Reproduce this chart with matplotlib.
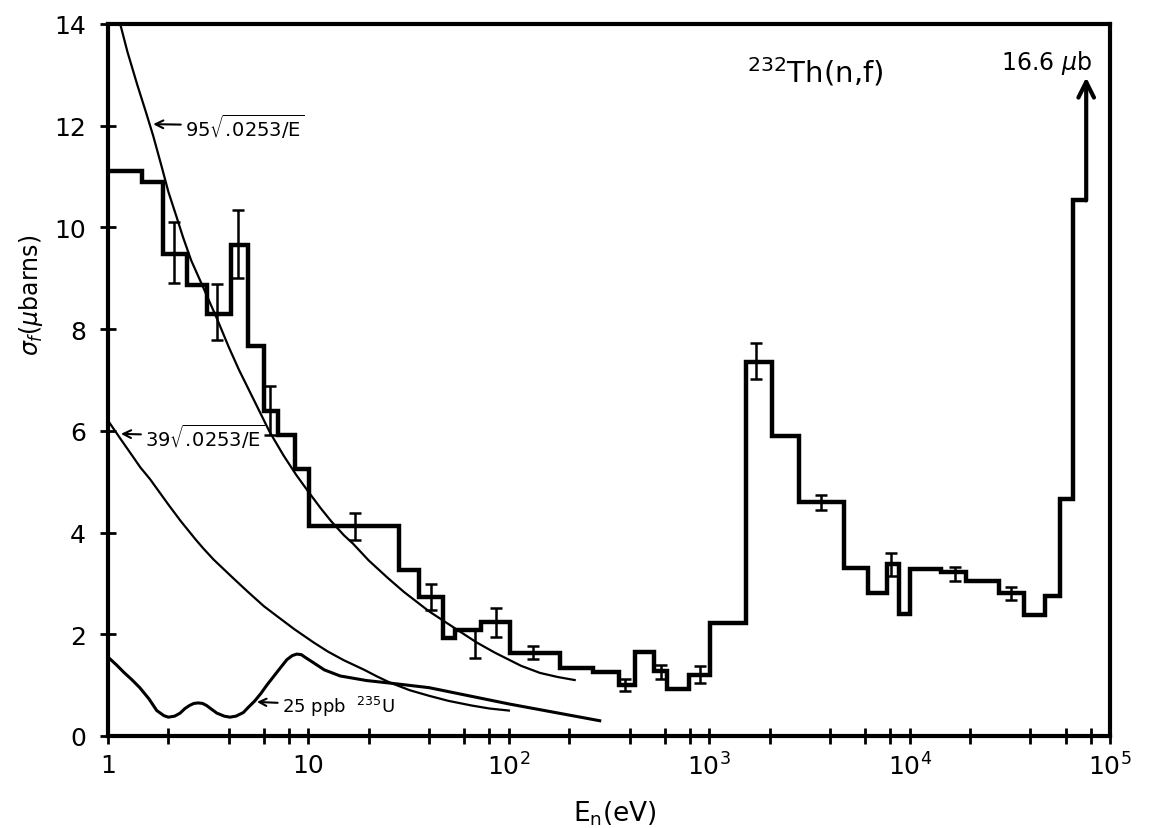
import matplotlib
matplotlib.use('Agg')
import matplotlib.pyplot as plt
from matplotlib.ticker import LogLocator, NullFormatter
import numpy as np

plt.rcParams['font.family'] = ['DejaVu Sans']
plt.rcParams['mathtext.fontset'] = 'dejavusans'

# histogram of the measured cross section: bin edges (eV) and values (microbarns)
edges = [1, 1.47, 1.875, 2.49, 3.13, 4.11, 4.98, 6.0, 7.08, 8.58,
         10.1, 28.4, 35.6, 47, 53.7, 73, 101, 180, 263, 355,
         425, 528, 615, 790, 1010, 1530, 2050, 2810, 4720, 6180,
         7750, 8800, 9980, 14250, 19200, 28000, 37200, 47600, 56000, 65500,
         76000]
sigma = [11.1, 10.9, 9.48, 8.87, 8.29, 9.65, 7.67, 6.38, 5.91, 5.24,
         4.12, 3.26, 2.74, 1.92, 2.08, 2.25, 1.64, 1.33, 1.25, 1.0,
         1.65, 1.28, 0.92, 1.2, 2.23, 7.36, 5.89, 4.61, 3.31, 2.82,
         3.39, 2.39, 3.29, 3.22, 3.05, 2.82, 2.37, 2.75, 4.65, 10.53]

# error bars: energy, lower end, upper end
err_e = [2.13, 3.51, 4.47, 6.43, 17.1, 41, 68, 86, 132, 380, 573, 900,
         1720, 3600, 8100, 16800, 32200]
err_lo = [8.9, 7.78, 9.0, 5.92, 3.85, 2.48, 1.54, 1.94, 1.51, 0.88, 1.13, 1.05,
          7.02, 4.44, 3.14, 3.05, 2.67]
err_hi = [10.1, 8.89, 10.35, 6.88, 4.39, 2.98, 2.10, 2.51, 1.76, 1.13, 1.39, 1.38,
          7.72, 4.73, 3.60, 3.33, 2.93]

# 95 sqrt(.0253/E) curve as drawn
e95 = [1.15, 1.25, 1.4, 1.55, 1.68, 1.85, 2.0, 2.2, 2.37, 2.6, 3.0, 3.5, 4.0,
       4.5, 5.2, 6.4, 7.5, 8.7, 10, 11.5, 13, 15, 16.7, 20, 25, 30, 40, 50, 69,
       85, 115, 143, 175, 213]
s95 = [14.0, 13.45, 12.8, 12.25, 11.8, 11.2, 10.7, 10.2, 9.8, 9.35, 8.8, 8.2, 7.65,
       7.2, 6.7, 5.98, 5.52, 5.13, 4.8, 4.48, 4.22, 3.95, 3.78, 3.45, 3.1, 2.83,
       2.45, 2.2, 1.84, 1.64, 1.38, 1.24, 1.16, 1.1]

# 39 sqrt(.0253/E) curve as drawn
e39 = [1.0, 1.15, 1.3, 1.45, 1.62, 1.8, 2.0, 2.3, 2.74, 3.0, 3.36, 3.8, 4.22, 5.0,
       6.0, 7.0, 8.5, 10.6, 12.5, 15, 19, 22, 25.5, 32, 40, 50, 65, 80, 100]
s39 = [6.2, 5.85, 5.55, 5.28, 5.05, 4.8, 4.55, 4.23, 3.86, 3.68, 3.47, 3.27, 3.1,
       2.83, 2.55, 2.35, 2.1, 1.84, 1.66, 1.49, 1.3, 1.17, 1.05, 0.9, 0.79, 0.69,
       0.6, 0.54, 0.50]

# 25 ppb U-235 contribution
eU = [1.0, 1.1, 1.2, 1.32, 1.44, 1.6, 1.75, 1.9, 2.0, 2.15, 2.29, 2.42, 2.55, 2.68,
      2.82, 2.96, 3.1, 3.3, 3.49, 3.8, 4.06, 4.35, 4.73, 5.0, 5.4, 5.8, 6.2, 6.95,
      7.8, 8.3, 8.74, 9.2, 9.6, 10.6, 12, 14.4, 19.5, 25.5, 40, 100, 284]
sU = [1.55, 1.4, 1.25, 1.1, 0.95, 0.73, 0.50, 0.40, 0.37, 0.39, 0.45, 0.54, 0.60,
      0.64, 0.65, 0.64, 0.60, 0.52, 0.45, 0.39, 0.37, 0.39, 0.46, 0.56, 0.69, 0.84,
      1.0, 1.25, 1.5, 1.58, 1.61, 1.6, 1.55, 1.44, 1.30, 1.18, 1.09, 1.04, 0.95,
      0.63, 0.30]

peak_value = 16.6

fig = plt.figure(figsize=(11.63, 8.29), dpi=100)
ax = fig.add_axes([0.0929, 0.111, 0.8616, 0.8589])
ax.set_xscale('log')
ax.set_xlim(1, 1e5)
ax.set_ylim(0, 14)

# histogram
ax.stairs(sigma, edges, baseline=None, color='black', lw=3.2)

lo = np.array(err_lo)
hi = np.array(err_hi)
ax.errorbar(err_e, (lo + hi) / 2, yerr=(hi - lo) / 2, fmt='none', ecolor='black',
            elinewidth=1.8, capsize=4, capthick=1.8)

# off-scale last bin
ax.annotate('', xy=(edges[-1], 12.95), xytext=(edges[-1], sigma[-1]),
            arrowprops=dict(arrowstyle='->', lw=3, color='black',
                            shrinkA=0, shrinkB=0, mutation_scale=28))
ax.text(0.936, 0.947, '%.1f $\\mu$b' % peak_value, transform=ax.transAxes,
        ha='center', va='center', fontsize=17)

# curves
ax.plot(e95, s95, color='black', lw=1.6)
ax.plot(e39, s39, color='black', lw=1.6)
ax.plot(eU, sU, color='black', lw=2.2)

arrow = dict(arrowstyle='->', lw=1.5, color='black', shrinkA=1, shrinkB=0)
ax.annotate(r'$95\sqrt{.\!0253/\mathrm{E}}$', xy=(1.68, 12.03), xytext=(2.42, 12.0),
            ha='left', va='center', fontsize=14, arrowprops=arrow)
ax.annotate(r'$39\sqrt{.\!0253/\mathrm{E}}$', xy=(1.16, 5.94), xytext=(1.53, 5.9),
            ha='left', va='center', fontsize=14, arrowprops=arrow)
ax.annotate('25 ppb  $^{235}$U', xy=(5.53, 0.67), xytext=(7.36, 0.6),
            ha='left', va='center', fontsize=13, arrowprops=arrow)

ax.text(0.706, 0.934, '$^{232}$Th(n,f)', transform=ax.transAxes,
        ha='center', va='center', fontsize=21)

# axes and ticks
for s in ax.spines.values():
    s.set_linewidth(3)

ax.set_xticks([1, 10, 100, 1e3, 1e4, 1e5])
ax.set_xticklabels(['1', '10', '$10^2$', '$10^3$', '$10^4$', '$10^5$'])
ax.xaxis.set_minor_locator(LogLocator(base=10, subs=[2, 4, 6, 8]))
ax.xaxis.set_minor_formatter(NullFormatter())
ax.set_yticks(np.arange(0, 15, 2))
ax.tick_params(which='both', direction='inout', length=12, width=2,
               top=False, right=False, labelsize=18)
ax.tick_params(axis='x', pad=6)
ax.tick_params(axis='y', pad=10)

ax.set_xlabel('E$_\\mathregular{n}$(eV)', fontsize=19)
ax.set_ylabel('$\\sigma_f$($\\mu$barns)', fontsize=17)
ax.xaxis.set_label_coords(0.506, -0.088)
ax.yaxis.set_label_coords(-0.063, 0.62)

plt.savefig('out.png', dpi=100)
